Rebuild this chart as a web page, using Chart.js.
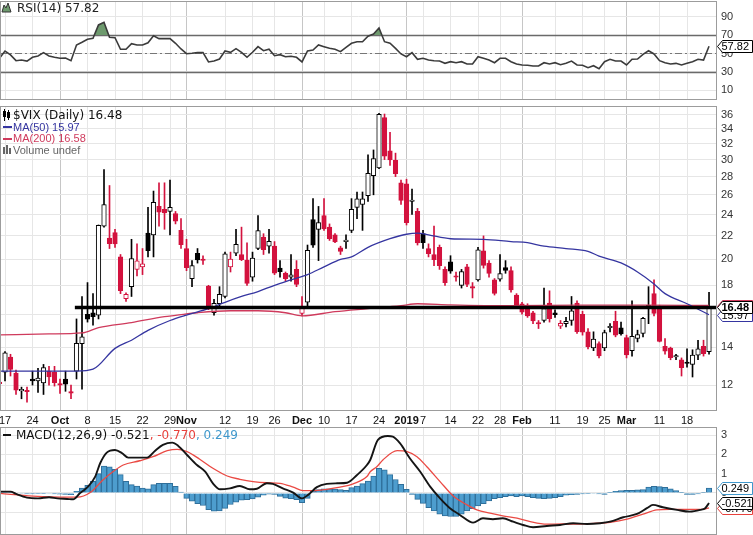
<!DOCTYPE html>
<html>
<head>
<meta charset="utf-8">
<script src="https://cdn.jsdelivr.net/npm/chart.js@4.4.1/dist/chart.umd.min.js"></script>
<style>
  html, body { margin: 0; padding: 0; background: #fff; }
  #wrap { position: relative; width: 753px; height: 535px; overflow: hidden; background: #fff; }
  canvas { position: absolute; left: 0; }
</style>
</head>
<body>
<div id="wrap">
  <canvas id="rsiChart" width="753" height="101" style="top:0px"></canvas>
  <canvas id="priceChart" width="753" height="326" style="top:101px"></canvas>
  <canvas id="macdChart" width="753" height="108" style="top:427px"></canvas>
</div>
<script>
// trading days Sep 14 2018 .. Mar 22 2019, index 0..129
const tickDays = [1, 6, 11, 16, 21, 26, 31, 34, 41, 46, 50, 55, 59, 64, 69, 74, 77, 82, 87, 91, 95, 101, 106, 110, 114, 120, 125];
const tickLabels = ['17', '24', 'Oct', '8', '15', '22', '29', 'Nov', '12', '19', '26', 'Dec', '10', '17', '24', '2019', '7', '14', '22', '28', 'Feb', '11', '19', '25', 'Mar', '11', '18'];
const monthLabels = ['Oct', 'Nov', 'Dec', '2019', 'Feb', 'Mar'];

const closeBeforeStart = 12.4;
const opens = [
  12.10, 12.65, 13.45, 12.60, 11.72, 11.72, 12.30, 12.20, 12.10, 12.70,
  12.65, 12.05, 12.30, 11.65, 12.70, 14.20, 16.00, 16.10, 15.95, 22.90,
  21.80, 22.30, 20.20, 17.05, 17.90, 19.20, 19.40, 22.25, 22.10, 24.80,
  24.50, 24.30, 24.10, 22.50, 20.90, 18.50, 20.50, 19.95, 17.95, 16.10,
  16.70, 17.20, 19.40, 20.50, 20.40, 19.95, 18.60, 20.90, 21.90, 21.10,
  21.10, 19.30, 18.90, 18.60, 19.20, 16.05, 16.80, 23.50, 22.60, 23.90,
  22.80, 22.10, 20.95, 21.50, 22.50, 24.70, 25.00, 25.90, 28.10, 29.00,
  35.60, 31.10, 29.90, 27.30, 27.20, 25.30, 24.30, 22.20, 20.90, 20.40,
  21.00, 19.20, 19.80, 18.65, 18.00, 19.40, 17.90, 18.40, 20.70, 19.70,
  18.40, 18.45, 19.35, 19.10, 17.30, 16.70, 16.60, 16.10, 15.42, 15.60,
  16.75, 16.10, 15.25, 15.40, 15.60, 16.75, 16.00, 14.90, 13.95, 14.20,
  13.95, 15.15, 15.55, 15.15, 14.55, 13.80, 14.50, 14.80, 16.45, 17.40,
  16.40, 14.05, 13.95, 13.45, 13.30, 13.12, 13.05, 13.55, 14.05, 13.75
];
const highs = [
  12.30, 13.75, 13.60, 12.75, 11.90, 11.90, 12.70, 12.85, 13.05, 12.95,
  12.95, 12.30, 12.70, 12.00, 15.70, 17.20, 18.20, 17.40, 23.00, 28.80,
  27.00, 22.60, 20.40, 17.45, 21.70, 21.30, 20.90, 24.70, 26.40, 27.30,
  27.30, 27.60, 24.30, 23.60, 21.70, 19.90, 20.90, 20.30, 18.00, 17.00,
  17.90, 20.60, 20.60, 22.60, 22.80, 21.40, 20.60, 23.90, 22.20, 22.60,
  21.50, 19.90, 19.00, 20.40, 19.90, 17.20, 21.20, 25.60, 24.80, 25.60,
  23.10, 22.20, 21.10, 22.10, 25.60, 26.30, 26.30, 30.60, 31.20, 36.20,
  36.10, 33.50, 30.80, 27.60, 27.70, 26.60, 24.60, 22.50, 21.30, 22.90,
  21.20, 19.40, 20.30, 19.00, 19.20, 19.60, 18.20, 21.00, 22.00, 19.90,
  18.50, 20.40, 19.90, 19.40, 17.40, 16.80, 16.70, 16.20, 15.60, 17.80,
  17.60, 16.30, 15.60, 15.80, 17.20, 16.90, 16.20, 15.10, 14.90, 14.30,
  15.00, 15.40, 16.20, 15.50, 14.70, 16.90, 15.00, 15.80, 17.90, 18.40,
  16.60, 14.50, 14.00, 13.60, 13.40, 13.90, 13.85, 14.40, 14.40, 17.50
];
const lows = [
  11.90, 12.20, 12.45, 11.55, 11.35, 11.20, 12.00, 11.65, 11.55, 12.00,
  11.95, 11.60, 11.70, 11.35, 12.30, 11.80, 15.50, 15.30, 15.70, 22.80,
  20.90, 21.00, 17.40, 16.85, 17.20, 18.70, 18.80, 20.20, 20.20, 22.90,
  22.60, 22.10, 23.10, 20.90, 19.10, 17.90, 19.70, 19.60, 16.30, 15.95,
  16.50, 17.10, 19.00, 20.30, 19.90, 18.00, 18.30, 20.80, 20.40, 20.50,
  18.80, 18.60, 18.30, 18.30, 17.90, 15.90, 16.40, 21.00, 19.90, 22.50,
  21.60, 21.40, 20.40, 20.90, 22.30, 23.60, 22.50, 25.30, 26.00, 28.90,
  30.00, 29.30, 28.00, 25.00, 23.00, 24.00, 21.20, 20.90, 20.20, 19.50,
  19.20, 18.00, 18.90, 18.30, 17.80, 17.90, 17.10, 18.30, 19.30, 18.60,
  17.30, 18.30, 18.90, 17.50, 16.40, 16.00, 15.80, 15.40, 15.10, 15.50,
  15.50, 15.80, 15.10, 15.20, 15.30, 14.80, 14.70, 13.90, 13.80, 13.40,
  13.80, 14.90, 14.60, 14.70, 13.40, 13.50, 14.30, 14.60, 15.40, 15.90,
  14.30, 13.60, 13.30, 13.30, 12.45, 12.90, 12.40, 13.30, 13.50, 13.60
];
const closes = [
  12.07, 13.68, 12.79, 11.75, 11.80, 11.68, 12.20, 12.35, 12.89, 12.41,
  12.12, 12.00, 12.05, 11.61, 14.22, 14.60, 15.69, 15.85, 22.96, 24.98,
  21.31, 21.30, 17.62, 17.35, 20.06, 19.89, 19.64, 20.71, 25.23, 24.22,
  24.16, 24.70, 23.35, 21.23, 19.34, 19.51, 19.96, 19.91, 16.36, 16.72,
  17.36, 20.45, 20.02, 21.25, 19.98, 18.14, 20.10, 22.48, 20.80, 21.52,
  18.90, 19.02, 18.49, 18.79, 18.07, 16.44, 20.74, 21.19, 23.23, 22.64,
  21.76, 21.46, 20.65, 21.63, 24.52, 25.58, 25.58, 28.38, 30.11, 36.07,
  30.41, 29.96, 28.34, 25.42, 23.22, 25.45, 21.38, 21.40, 20.47, 19.98,
  19.50, 18.19, 19.07, 18.60, 19.04, 18.06, 17.80, 20.80, 19.52, 18.89,
  17.42, 18.87, 19.13, 17.66, 16.57, 16.14, 15.90, 15.57, 15.38, 16.37,
  15.72, 15.97, 15.43, 15.55, 16.22, 14.91, 14.88, 14.02, 14.46, 13.51,
  14.85, 15.17, 14.70, 14.78, 13.57, 14.63, 14.74, 15.74, 16.59, 16.05,
  14.33, 13.77, 13.41, 13.50, 12.88, 13.10, 13.56, 13.91, 13.63, 16.48
];

// moving averages (day index, value)
const ma50Days = [0, 14, 17, 21, 24, 27, 31, 34, 38, 41, 44, 47, 50, 53, 56, 59, 62, 64, 67, 71, 74, 76, 78, 82, 88, 93, 96, 99, 103, 107, 109, 113, 116, 119, 121, 125, 129];
const ma50 = [12.70, 12.70, 12.80, 13.93, 14.40, 14.99, 15.60, 15.95, 16.37, 16.80, 17.20, 17.55, 18.00, 18.40, 18.80, 19.40, 20.00, 20.20, 21.00, 21.75, 22.15, 22.25, 22.10, 21.75, 21.70, 21.50, 21.40, 21.10, 20.90, 20.66, 20.27, 19.71, 19.00, 18.10, 17.40, 16.70, 15.97];
const ma200Days = [0, 9, 15, 18, 24, 30, 32, 36, 42, 47, 52, 55, 61, 67, 73, 76, 82, 93, 105, 118, 129];
const ma200 = [14.71, 14.77, 14.83, 15.16, 15.47, 15.85, 15.93, 16.10, 16.23, 16.23, 16.10, 15.90, 16.17, 16.37, 16.57, 16.70, 16.63, 16.57, 16.60, 16.60, 16.58];
const supportLevel = 16.45;
const supportStartDay = 13.7;

const rsi = [
  44.8, 52.7, 48.4, 42.2, 42.9, 41.8, 45.9, 47.3, 50.9, 47.3,
  45.9, 44.8, 45.1, 42.2, 59.2, 62.2, 65.4, 66.5, 81.0, 83.9,
  67.6, 67.2, 54.6, 54.6, 60.7, 59.2, 59.2, 61.7, 69.3, 66.1,
  66.1, 66.1, 61.1, 54.9, 49.8, 50.2, 50.9, 50.9, 40.8, 41.8,
  44.0, 52.7, 51.3, 55.2, 51.3, 45.9, 51.3, 57.4, 53.0, 54.6,
  47.6, 48.7, 46.5, 47.0, 45.9, 40.8, 52.7, 53.8, 59.2, 57.4,
  55.6, 54.6, 52.0, 56.7, 61.1, 62.8, 62.8, 68.8, 71.2, 77.8,
  62.8, 61.1, 55.6, 49.5, 46.5, 50.9, 43.7, 44.8, 42.9, 42.2,
  41.8, 39.3, 41.1, 40.0, 41.1, 38.6, 38.6, 46.5, 44.8, 42.9,
  40.0, 44.8, 44.8, 41.1, 38.6, 37.5, 37.2, 36.4, 36.4, 40.0,
  38.6, 40.0, 37.8, 39.3, 41.8, 37.5, 37.2, 34.6, 36.7, 33.5,
  41.1, 43.7, 41.8, 41.8, 37.5, 43.7, 44.0, 49.1, 53.0, 49.5,
  42.2, 40.0, 38.6, 39.3, 37.5, 39.3, 41.1, 43.7, 42.9, 57.82
];

const macdDays = [0, 2, 3, 5, 7, 9, 10.5, 12.3, 13.4, 14.6, 16.1, 17.4, 18.3, 19.5, 21, 22.3, 23.4, 25, 26.8, 28.3, 29.7, 31.4, 32.5, 34.1, 35.9, 37.4, 38.8, 40.1, 41.9, 43.7, 45.5, 46.8, 48.6, 49.7, 51.5, 53.4, 55, 56.1, 57.7, 59.5, 61.4, 63.2, 65, 66.8, 67.4, 68.8, 70.6, 71.5, 72.8, 74.6, 76.5, 78.3, 80.1, 81.9, 83.7, 85.5, 86.1, 87.9, 89.7, 91.5, 93.4, 95.2, 97, 99.5, 101.9, 104.3, 106.8, 109.2, 111, 113.4, 115.9, 117.7, 118.8, 120.6, 123.2, 125.5, 127.4, 128.3, 129];
const macdLine = [0.07, 0.07, -0.05, -0.24, -0.28, -0.22, -0.28, -0.31, -0.33, -0.02, 0.33, 0.85, 1.54, 2.09, 2.23, 2.06, 1.83, 1.83, 1.83, 2.19, 2.49, 2.61, 2.44, 1.97, 1.45, 1.10, 0.50, 0.19, 0.24, 0.36, 0.19, 0.22, 0.50, 0.47, 0.24, 0.02, -0.28, -0.10, 0.30, 0.47, 0.50, 0.53, 0.93, 1.45, 1.71, 2.75, 2.95, 2.92, 2.58, 1.80, 1.10, 0.33, -0.28, -0.79, -1.14, -1.49, -1.54, -1.31, -1.36, -1.31, -1.49, -1.66, -1.78, -1.71, -1.66, -1.57, -1.61, -1.57, -1.49, -1.26, -1.09, -0.79, -0.62, -0.74, -0.88, -0.97, -0.88, -0.79, -0.521];
const signalDays = [0, 6.1, 12.3, 14.1, 16.5, 18.8, 20.6, 22.5, 25.5, 27.9, 30.5, 32.3, 34.1, 36.4, 38.8, 41.4, 43.7, 46.1, 48.6, 51, 53.4, 55.2, 57, 59.5, 61.9, 64.3, 66.8, 67.4, 68.6, 69.7, 72.3, 74.1, 75.9, 77.7, 80.1, 82.5, 85, 86.8, 89.2, 91.5, 94.1, 96.5, 99.5, 102.4, 105.5, 108.6, 111, 114.1, 117, 119.5, 121.9, 125, 127.9, 129];
const signalLine = [-0.02, -0.16, -0.22, -0.22, 0.02, 0.67, 1.10, 1.45, 1.67, 1.88, 2.19, 2.26, 2.14, 1.75, 1.28, 0.88, 0.71, 0.59, 0.53, 0.50, 0.30, 0.12, 0.12, 0.19, 0.30, 0.47, 0.85, 1.10, 1.36, 1.71, 2.19, 2.14, 1.88, 1.36, 0.59, -0.16, -0.62, -0.88, -1.05, -1.19, -1.31, -1.49, -1.62, -1.61, -1.61, -1.57, -1.52, -1.36, -1.10, -0.88, -0.85, -0.85, -0.85, -0.770];
const macdHist = [
  0.07, 0.06, 0.04, 0.00, -0.03, -0.05, -0.05, -0.04, -0.02, -0.03,
  -0.05, -0.06, -0.07, -0.09, 0.08, 0.25, 0.40, 0.60, 1.00, 1.40,
  1.35, 1.22, 0.95, 0.60, 0.43, 0.36, 0.25, 0.21, 0.43, 0.50,
  0.50, 0.50, 0.35, 0.05, -0.28, -0.42, -0.55, -0.65, -0.87, -0.95,
  -0.93, -0.80, -0.60, -0.48, -0.38, -0.35, -0.31, -0.22, -0.12, -0.06,
  -0.08, -0.18, -0.27, -0.30, -0.35, -0.50, -0.28, 0.08, 0.18, 0.22,
  0.22, 0.20, 0.17, 0.14, 0.28, 0.36, 0.48, 0.62, 0.88, 1.28,
  1.20, 0.95, 0.70, 0.45, 0.19, -0.07, -0.33, -0.54, -0.76, -0.93,
  -1.10, -1.19, -1.22, -1.22, -1.10, -0.93, -0.81, -0.67, -0.55, -0.41,
  -0.29, -0.24, -0.19, -0.16, -0.19, -0.16, -0.19, -0.24, -0.28, -0.29,
  -0.28, -0.24, -0.19, -0.12, -0.09, -0.07, -0.05, -0.04, -0.03, -0.05,
  -0.07, 0.03, 0.08, 0.12, 0.13, 0.14, 0.16, 0.17, 0.31, 0.34,
  0.33, 0.29, 0.21, 0.12, 0.03, -0.07, -0.07, -0.05, 0.02, 0.249
];

const FONT_AX = '"Liberation Sans", Arial, sans-serif';
const FONT_LG = '"DejaVu Sans", Verdana, sans-serif';
const RED = '#d3123e';
const BLUE = '#3535a0';
const PINK = '#cf3a5c';
const HIST = '#4d9dce';
const HIST_EDGE = '#2f6f9a';
const X_MIN = 0.09, X_MAX = 130.45;

Chart.defaults.font.family = FONT_AX;

const days = closes.map((c, i) => i);
const candleColors = closes.map((c, i) => c < (i === 0 ? closeBeforeStart : closes[i - 1]) ? RED : '#000');
const bodyFills = closes.map((c, i) => c > opens[i] ? '#fff' : candleColors[i]);
const last = arr => arr[arr.length - 1];
const pts = (xs, ys) => xs.map((x, k) => ({ x: x, y: ys[k] }));

// shared x axis (trading day index)
function xAxis(showLabels) {
  return {
    type: 'linear', min: X_MIN, max: X_MAX, offset: false,
    afterBuildTicks: s => { s.ticks = tickDays.map(v => ({ value: v })); },
    afterFit: s => { s.paddingLeft = 0; s.paddingRight = 0; s.height = showLabels ? 16 : 0; },
    grid: {
      offset: false, drawTicks: false, lineWidth: 1,
      color: c => monthLabels.includes(tickLabels[c.index]) ? '#c6c6c6' : '#e6e6e6'
    },
    border: { display: false },
    ticks: {
      display: showLabels, autoSkip: false, maxRotation: 0, minRotation: 0, padding: 3, color: '#111',
      font: c => ({ family: FONT_AX, size: 11, weight: monthLabels.includes(tickLabels[c.index]) ? 'bold' : 'normal' }),
      callback: (v, i) => tickLabels[i]
    }
  };
}

function yAxis(type, min, max, tickVals) {
  return {
    type: type, min: min, max: max, position: 'right',
    afterBuildTicks: s => { s.ticks = tickVals.map(v => ({ value: v })); },
    afterFit: s => { s.width = 36; s.paddingTop = 0; s.paddingBottom = 0; },
    grid: { color: '#e6e6e6', drawTicks: false },
    border: { display: false },
    ticks: { color: '#333', padding: 4, font: { family: FONT_AX, size: 11 }, callback: v => String(v) }
  };
}

function frame(chart) {
  const { ctx, chartArea: a } = chart;
  ctx.save();
  ctx.strokeStyle = '#9c9c9c';
  ctx.lineWidth = 1;
  ctx.strokeRect(a.left + 0.5, a.top + 0.5, a.right - a.left - 1, a.bottom - a.top - 1);
  ctx.restore();
}

// value tag on the right axis
function valueBox(chart, value, text, edge, bold) {
  const { ctx, chartArea: a } = chart;
  const y = Math.round(chart.scales.y.getPixelForValue(value)) + 0.5;
  const x0 = a.right + 0.5, x1 = 752.5, h = 12;
  ctx.save();
  ctx.beginPath();
  ctx.moveTo(x0, y);
  ctx.lineTo(x0 + 5, y - h / 2);
  ctx.lineTo(x1, y - h / 2);
  ctx.lineTo(x1, y + h / 2);
  ctx.lineTo(x0 + 5, y + h / 2);
  ctx.closePath();
  ctx.fillStyle = '#fff';
  ctx.fill();
  ctx.strokeStyle = edge;
  ctx.lineWidth = 1;
  ctx.stroke();
  ctx.fillStyle = '#000';
  ctx.font = (bold ? 'bold ' : '') + '11px ' + FONT_AX;
  ctx.textAlign = 'left';
  ctx.textBaseline = 'middle';
  ctx.fillText(text, x0 + 4, y + 0.5);
  ctx.restore();
}

function label(ctx, text, x, y, color, font) {
  ctx.fillStyle = color;
  ctx.font = font;
  ctx.textAlign = 'left';
  ctx.textBaseline = 'middle';
  ctx.fillText(text, x, y);
}

// ---------- RSI panel ----------
new Chart(document.getElementById('rsiChart'), {
  type: 'line',
  data: {
    datasets: [{
      data: pts(days, rsi),
      borderColor: '#3b3b3b', borderWidth: 1.6, pointRadius: 0, tension: 0,
      fill: { target: { value: 70 }, above: '#6e9a6e', below: 'rgba(0,0,0,0)' }
    }]
  },
  options: {
    responsive: false, animation: false,
    layout: { padding: { top: 1, bottom: 1, left: 0, right: 0 } },
    plugins: { legend: { display: false }, tooltip: { enabled: false } },
    scales: { x: xAxis(false), y: yAxis('linear', -0.5, 107, [10, 30, 50, 70, 90]) }
  },
  plugins: [{
    id: 'rsiLevels',
    beforeDatasetsDraw(chart) {
      const { ctx, chartArea: a, scales } = chart;
      ctx.save();
      [70, 30].forEach(v => {
        const y = Math.round(scales.y.getPixelForValue(v)) + 0.5;
        ctx.strokeStyle = '#6a6a6a'; ctx.lineWidth = 1.3;
        ctx.beginPath(); ctx.moveTo(a.left, y); ctx.lineTo(a.right, y); ctx.stroke();
      });
      const y50 = Math.round(scales.y.getPixelForValue(50)) + 0.5;
      ctx.strokeStyle = '#777'; ctx.lineWidth = 1; ctx.setLineDash([7, 3, 2, 3]);
      ctx.beginPath(); ctx.moveTo(a.left, y50); ctx.lineTo(a.right, y50); ctx.stroke();
      ctx.restore();
    },
    afterDraw(chart) {
      const ctx = chart.ctx;
      frame(chart);
      ctx.save();
      // little mountain icon
      ctx.beginPath();
      ctx.moveTo(2, 12); ctx.lineTo(4, 5); ctx.lineTo(6, 8); ctx.lineTo(8, 3); ctx.lineTo(11, 12); ctx.closePath();
      ctx.fillStyle = '#6e9a6e'; ctx.fill();
      ctx.strokeStyle = '#333'; ctx.lineWidth = 1; ctx.stroke();
      label(ctx, 'RSI(14) ' + last(rsi).toFixed(2), 17, 8.5, '#222', '12px ' + FONT_LG);
      ctx.restore();
      valueBox(chart, last(rsi), last(rsi).toFixed(2), '#000', false);
    }
  }]
});

// ---------- price panel ----------
new Chart(document.getElementById('priceChart'), {
  type: 'bar',
  data: {
    datasets: [
      {
        type: 'line', label: 'support',
        data: [{ x: supportStartDay, y: supportLevel }, { x: X_MAX, y: supportLevel }],
        borderColor: '#000', borderWidth: 3.5, pointRadius: 0, order: 0
      },
      {
        type: 'line', label: 'MA(50)', data: pts(ma50Days, ma50),
        borderColor: BLUE, borderWidth: 1.3, pointRadius: 0, cubicInterpolationMode: 'monotone', order: 1
      },
      {
        type: 'line', label: 'MA(200)', data: pts(ma200Days, ma200),
        borderColor: PINK, borderWidth: 1.3, pointRadius: 0, cubicInterpolationMode: 'monotone', order: 1
      },
      {
        type: 'bar', label: 'body',
        data: days.map(i => ({ x: i, y: [opens[i], closes[i]] })),
        backgroundColor: bodyFills, borderColor: candleColors, borderWidth: 1, borderSkipped: false,
        barThickness: 4.6, minBarLength: 1.5, grouped: false, order: 2
      },
      {
        type: 'bar', label: 'wick',
        data: days.map(i => ({ x: i, y: [lows[i], highs[i]] })),
        backgroundColor: candleColors, borderWidth: 0,
        barThickness: 1, grouped: false, order: 3
      }
    ]
  },
  options: {
    responsive: false, animation: false,
    layout: { padding: { top: 5, bottom: 0, left: 0, right: 0 } },
    plugins: { legend: { display: false }, tooltip: { enabled: false } },
    scales: {
      x: xAxis(true),
      y: yAxis('logarithmic', 10.8, 37.3, [12, 14, 16, 18, 20, 22, 24, 26, 28, 30, 32, 34, 36])
    }
  },
  plugins: [{
    id: 'priceDecor',
    afterDraw(chart) {
      const ctx = chart.ctx;
      frame(chart);
      ctx.save();
      // candle icon
      ctx.fillStyle = '#000';
      ctx.fillRect(4, 8, 1, 12); ctx.fillRect(3, 10, 3, 6);
      ctx.fillRect(8, 9, 1, 10); ctx.strokeStyle = '#000'; ctx.lineWidth = 1; ctx.strokeRect(7.5, 11.5, 2, 5);
      label(ctx, '$VIX (Daily) ' + last(closes).toFixed(2), 13, 14.5, '#111', '12px ' + FONT_LG);
      ctx.fillStyle = BLUE; ctx.fillRect(3, 25, 9, 2);
      label(ctx, 'MA(50) ' + last(ma50).toFixed(2), 13, 26.5, BLUE, '11px ' + FONT_AX);
      ctx.fillStyle = PINK; ctx.fillRect(3, 37, 9, 2);
      label(ctx, 'MA(200) ' + last(ma200).toFixed(2), 13, 38, PINK, '11px ' + FONT_AX);
      ctx.fillStyle = '#666';
      ctx.fillRect(3, 46, 2, 7); ctx.fillRect(6, 44, 2, 9); ctx.fillRect(9, 47, 2, 6);
      label(ctx, 'Volume undef', 13, 49.5, '#666', '11px ' + FONT_AX);
      ctx.restore();
      valueBox(chart, last(ma200), last(ma200).toFixed(2), PINK, false);
      valueBox(chart, last(ma50), last(ma50).toFixed(2), BLUE, false);
      valueBox(chart, last(closes), last(closes).toFixed(2), '#000', true);
    }
  }]
});

// ---------- MACD panel ----------
new Chart(document.getElementById('macdChart'), {
  type: 'bar',
  data: {
    datasets: [
      {
        type: 'line', label: 'MACD', data: pts(macdDays, macdLine),
        borderColor: '#151515', borderWidth: 1.9, pointRadius: 0, cubicInterpolationMode: 'monotone', order: 0
      },
      {
        type: 'line', label: 'Signal', data: pts(signalDays, signalLine),
        borderColor: '#ea4a44', borderWidth: 1.3, pointRadius: 0, cubicInterpolationMode: 'monotone', order: 1
      },
      {
        type: 'bar', label: 'Histogram', data: days.map(i => ({ x: i, y: macdHist[i] })),
        backgroundColor: HIST, borderColor: HIST_EDGE, borderWidth: 1,
        barPercentage: 1, categoryPercentage: 1, grouped: false, order: 2
      }
    ]
  },
  options: {
    responsive: false, animation: false,
    layout: { padding: 0 },
    plugins: { legend: { display: false }, tooltip: { enabled: false } },
    scales: { x: xAxis(false), y: yAxis('linear', -2.18, 3.42, [-1, 0, 1, 2, 3]) }
  },
  plugins: [{
    id: 'macdDecor',
    afterDraw(chart) {
      const ctx = chart.ctx;
      frame(chart);
      ctx.save();
      ctx.fillStyle = '#111'; ctx.fillRect(3, 7, 8, 2);
      ctx.font = '12px ' + FONT_LG;
      const t1 = 'MACD(12,26,9) ' + last(macdLine).toFixed(3);
      const t2 = ', ' + last(signalLine).toFixed(3);
      const t3 = ', ' + last(macdHist).toFixed(3);
      let x = 16;
      label(ctx, t1, x, 8.5, '#111', '12px ' + FONT_LG); x += ctx.measureText(t1).width;
      label(ctx, t2, x, 8.5, '#e8413c', '12px ' + FONT_LG); x += ctx.measureText(t2).width;
      label(ctx, t3, x, 8.5, '#3f98cc', '12px ' + FONT_LG);
      ctx.restore();
      valueBox(chart, last(signalLine), last(signalLine).toFixed(3), '#e8413c', false);
      valueBox(chart, last(macdLine), last(macdLine).toFixed(3), '#000', false);
      valueBox(chart, last(macdHist), last(macdHist).toFixed(3), '#3f98cc', false);
    }
  }]
});
</script>
</body>
</html>
